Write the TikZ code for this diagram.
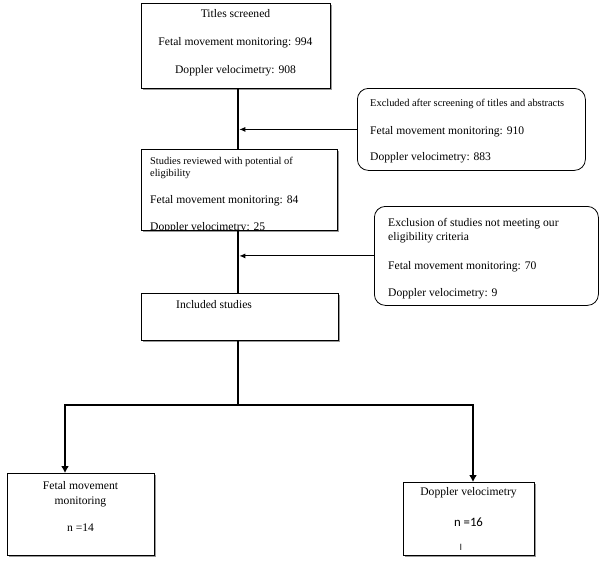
\documentclass[tikz,border=0pt]{standalone}
\usepackage{fontspec}
\setmainfont{Liberation Serif}
\newfontfamily\califont{Carlito}
\usepackage{tikz}
\usetikzlibrary{positioning}
\usetikzlibrary{calc}
\usetikzlibrary{arrows.meta}
\usetikzlibrary{shadows}
\tikzset{
box/.style={
  rectangle,
  inner sep=0pt,
  anchor=north west,
  %text width=1mm,
  draw=black,
  line width=0.8pt,
  fill=white,
  drop shadow={shadow xshift=2pt,shadow yshift=-2pt,fill=black!40,opacity=1}
  },
excl/.style={
  rectangle,
  rounded corners=11pt,
  inner sep=0pt,
  anchor=north west,
  draw=black,
  line width=0.8pt,
  fill=white
  },
txt/.style={
  inner sep=0pt,
  font=\fontsize{11.6}{28}\selectfont
  },
trunk/.style={line width=2.6pt},
side/.style={line width=1pt,-{Latex[length=6pt,width=5pt]}}
}

\begin{document}
\begin{tikzpicture}[x=1pt,y=-1pt]
            \useasboundingbox (0,0) rectangle (600,563);
            % boxes
            \node[box,minimum width=189pt,minimum height=85pt] (titles) at (141,3) {};
            \node[box,minimum width=196pt,minimum height=81pt] (review) at (141,149) {};
            \node[box,minimum width=197pt,minimum height=47pt] (incl) at (141,293) {};
            \node[box,minimum width=147pt,minimum height=82pt] (fetal) at (7,473) {};
            \node[box,minimum width=131pt,minimum height=73pt] (doppler) at (403,482) {};
            \node[excl,minimum width=228pt,minimum height=82pt] (excl1) at (357,88) {};
            \node[excl,minimum width=224pt,minimum height=99pt] (excl2) at (374,206) {};
            % texts
            \node[txt,align=center] (t1) at (235.5,43) {Titles screened\\Fetal movement monitoring: 994\\Doppler velocimetry: 908};
            \begin{scope}
            \clip (review.north west) rectangle (review.south east);
            \node[txt,anchor=north west,align=left,font=\fontsize{10.4}{12.6}\selectfont] (t2) at (150,156.6)
              {Studies reviewed with potential of\\eligibility\\[14pt]{\fontsize{11.6}{14}\selectfont Fetal movement monitoring: 84}\\[15pt]{\fontsize{11.6}{14}\selectfont Doppler velocimetry: 25}};
            \end{scope}
            \node[txt,anchor=west] (t3) at (176,305) {Included studies};
            \node[txt,anchor=north west,align=left,font=\fontsize{10.4}{12.6}\selectfont] (t4) at (370,98.9)
              {Excluded after screening of titles and abstracts\\[15.4pt]{\fontsize{11.6}{14}\selectfont Fetal movement monitoring: 910}\\[13.4pt]{\fontsize{11.6}{14}\selectfont Doppler velocimetry: 883}};
            \node[txt,anchor=north west,align=left,font=\fontsize{11.6}{14}\selectfont] (t5) at (388,218.4)
              {Exclusion of studies not meeting our\\eligibility criteria\\[15pt]Fetal movement monitoring: 70\\[13pt]Doppler velocimetry: 9};
            \node[txt,anchor=north,align=center,font=\fontsize{11.6}{15}\selectfont] (t6) at (80.5,481.4)
              {Fetal movement\\monitoring\\[12pt]n =14};
            \node[txt] (t7) at (468.5,493) {Doppler velocimetry};
            \node[txt,font=\califont\fontsize{12.8}{14}\selectfont] (t8) at (468.5,522) {n =16};
            \node[txt,font=\califont\fontsize{9}{10}\selectfont,anchor=base] (t9) at (461,550) {l};
            % connectors
            \coordinate (trunk) at (238,0);
            \coordinate (split) at (238,405);
            \coordinate (lcol) at (65,0);
            \coordinate (rcol) at (473,0);
            \draw[trunk] (titles.south -| trunk) -- (review.north -| trunk);
            \draw[trunk] (review.south -| trunk) -- (incl.north -| trunk);
            \draw[trunk] (incl.south -| trunk) -- (split);
            \draw[trunk,-{Latex[length=7pt,width=8pt]}] (split) -| (fetal.north -| lcol);
            \draw[trunk,-{Latex[length=7pt,width=8pt]}] (split) -| (doppler.north -| rcol);
            \draw[side] (excl1.west) -- ([xshift=1.3pt]excl1.west -| trunk);
            \draw[side] (excl2.west) -- ([xshift=1.3pt]excl2.west -| trunk);
        \end{tikzpicture}
\end{document}
